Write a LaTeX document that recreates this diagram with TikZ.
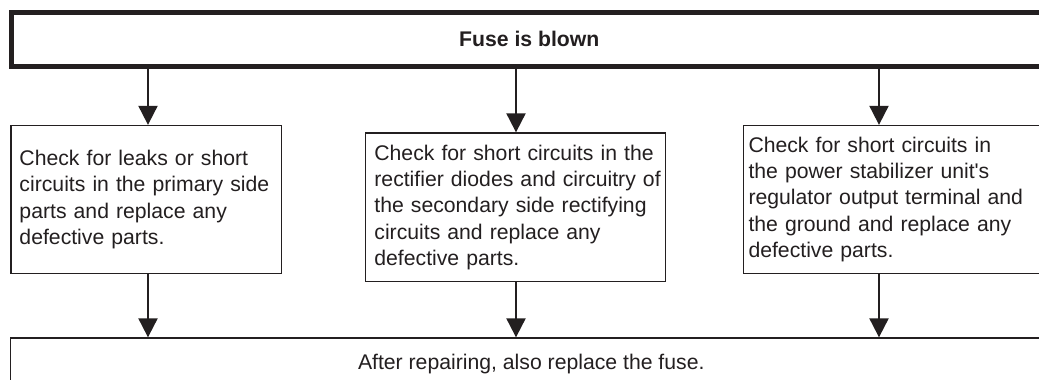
\documentclass[tikz,border=0pt]{standalone}
\usepackage{fontspec}
\setmainfont{Liberation Sans}
\usetikzlibrary{arrows.meta}
\definecolor{ink}{RGB}{35,31,32}
\begin{document}
\begin{tikzpicture}[x=1pt,y=-1pt,
  font=\fontsize{21.2pt}{26.3pt}\selectfont,
  topbox/.style={draw=ink, line width=5pt, text=ink, inner sep=0pt, font=\fontsize{21.2pt}{26.3pt}\selectfont\bfseries},
  stepbox/.style={draw=ink, line width=1.3pt, text=ink, align=left, inner ysep=0pt},
  endbox/.style={draw=ink, line width=1.3pt, text=ink, inner sep=0pt},
  arr/.style={draw=ink, line width=2pt, -{Triangle[width=19pt,length=19pt]}}]
\clip (0,0) rectangle (1039,380);
\fill[white] (0,0) rectangle (1039,380);
\node[topbox, minimum width=1035.5pt, minimum height=54pt] (top) at (529.25,39) {Fuse is blown};
\node[stepbox, text width=253.5pt, inner xsep=8.5pt, minimum height=148pt] (b1) at (146.25,199.5)
  {\mbox{Check for leaks or short}\\\mbox{circuits in the primary side}\\\mbox{parts and replace any}\\\mbox{defective parts.}};
\node[stepbox, text width=282.2pt, inner xsep=8.9pt, minimum height=148.5pt] (b2) at (515.5,207.25)
  {\mbox{Check for short circuits in the}\\\mbox{rectifier diodes and circuitry of}\\\mbox{the secondary side rectifying}\\\mbox{circuits and replace any}\\\mbox{defective parts.}};
\node[stepbox, text width=296.5pt, inner xsep=5pt, minimum height=148pt] (b3) at (896.75,199.5)
  {\mbox{Check for short circuits in}\\\mbox{the power stabilizer unit\textquotesingle s}\\\mbox{regulator output terminal and}\\\mbox{the ground and replace any}\\\mbox{defective parts.}};
\node[endbox, minimum width=1041.5pt, minimum height=52pt] (bot) at (531.25,364) {After repairing, also replace the fuse.};
\coordinate (x1) at (148,0);
\coordinate (x2) at (516,0);
\coordinate (x3) at (879,0);
\draw[arr] (top.south -| x1) -- (b1.north -| x1);
\draw[arr] (top.south -| x2) -- (b2.north -| x2);
\draw[arr] (top.south -| x3) -- (b3.north -| x3);
\draw[arr] (b1.south -| x1) -- (bot.north -| x1);
\draw[arr] (b2.south -| x2) -- (bot.north -| x2);
\draw[arr] (b3.south -| x3) -- (bot.north -| x3);
\end{tikzpicture}
\end{document}
